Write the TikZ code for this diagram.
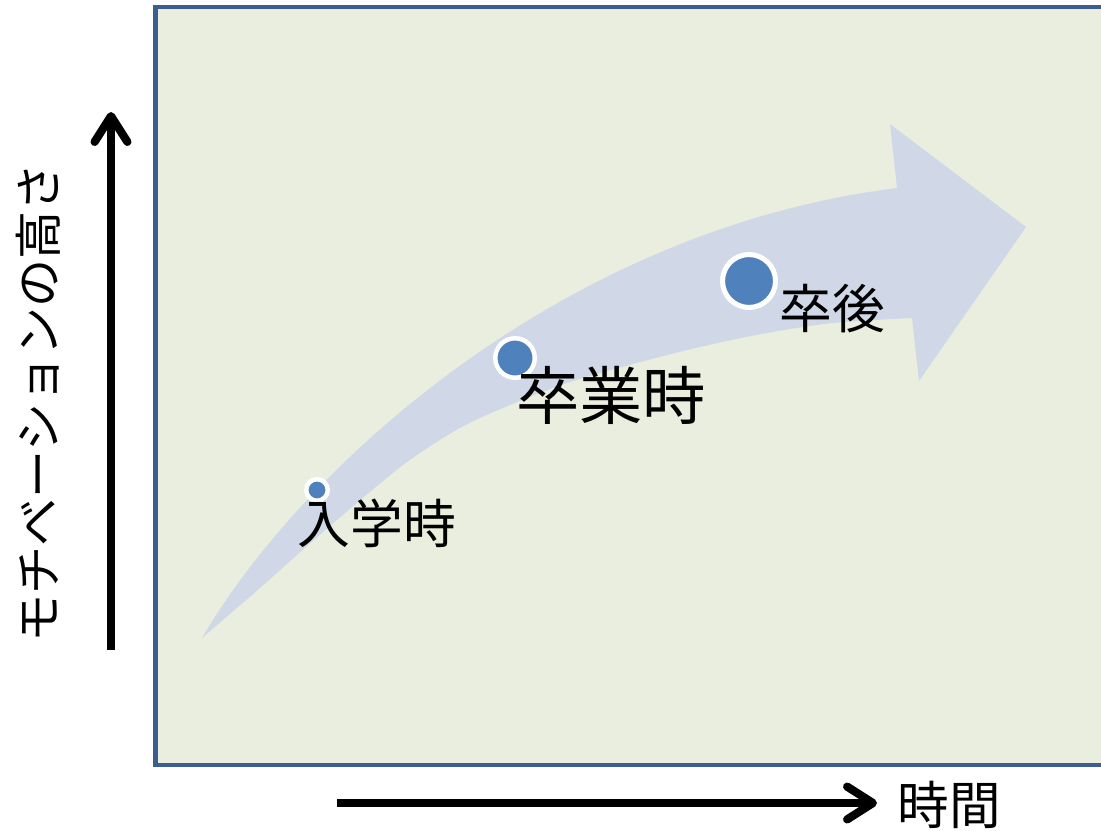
\documentclass[tikz,border=0pt]{standalone}
\usepackage{fontspec}
\newfontfamily\jp{Noto Sans CJK JP}
\usetikzlibrary{arrows.meta}
\definecolor{framecol}{HTML}{3B5E8E}
\definecolor{panelfill}{HTML}{EAEEDE}
\definecolor{bandcol}{HTML}{D0D8E8}
\definecolor{dotcol}{HTML}{4F81BD}
\tikzset{
  dot/.style={circle, fill=dotcol, draw=white, inner sep=0pt, outer sep=0pt},
  lbl/.style={inner sep=0pt, text=black, font=\jp},
  axis/.style={line width=7pt, black, -{Straight Barb[length=22pt,width=28pt,round]}}
}
\begin{document}
\begin{tikzpicture}[x=0.03cm, y=-0.03cm]
\useasboundingbox (0,0) rectangle (1101,830);
\clip (0,0) rectangle (1101,830);
% panel
\draw[draw=framecol, fill=panelfill, line width=3.8pt] (155.5,7) rectangle (1130,765);
% curved band arrow
\fill[bandcol] (202,638) .. controls (300,470) and (560,230) .. (897,188)
  -- (890,124) -- (1026,227) -- (919,381) -- (912,318)
  -- plot[smooth, tension=0.5] coordinates {(912,318) (833,323) (767,333) (700,347) (633,364) (567,383) (510,405) (460,428) (403,465) (323,532) (260,588) (202,638)} -- cycle;
% dots
\node[dot, minimum size=18.4pt, line width=3.8pt] (d1) at (317,490) {};
\node[dot, minimum size=33.7pt, line width=3.8pt] (d2) at (515,358) {};
\node[dot, minimum size=45.2pt, line width=4.3pt] (d3) at (749,281) {};
% labels
\node[lbl, font=\jp\fontsize{45pt}{50pt}\selectfont] (l1) at (377,523) {入学時};
\node[lbl, font=\jp\fontsize{54pt}{60pt}\selectfont] (l2) at (611,395) {卒業時};
\node[lbl, font=\jp\fontsize{45pt}{50pt}\selectfont] (l3) at (832,309) {卒後};
% axes
\coordinate (ybot) at (111,650);
\coordinate (ytop) at (111,112);
\coordinate (xl) at (337,803);
\coordinate (xr) at (877,803);
\draw[axis] (ybot) -- (ytop);
\draw[axis] (xl) -- (xr);
\node[lbl, font=\jp\fontsize{44pt}{50pt}\selectfont] (xt) at (949,805) {時間};
\node[lbl, font=\jp\fontsize{41pt}{46pt}\selectfont, rotate=90] (yt) at (38,403) {モチベーションの高さ};
\end{tikzpicture}
\end{document}
